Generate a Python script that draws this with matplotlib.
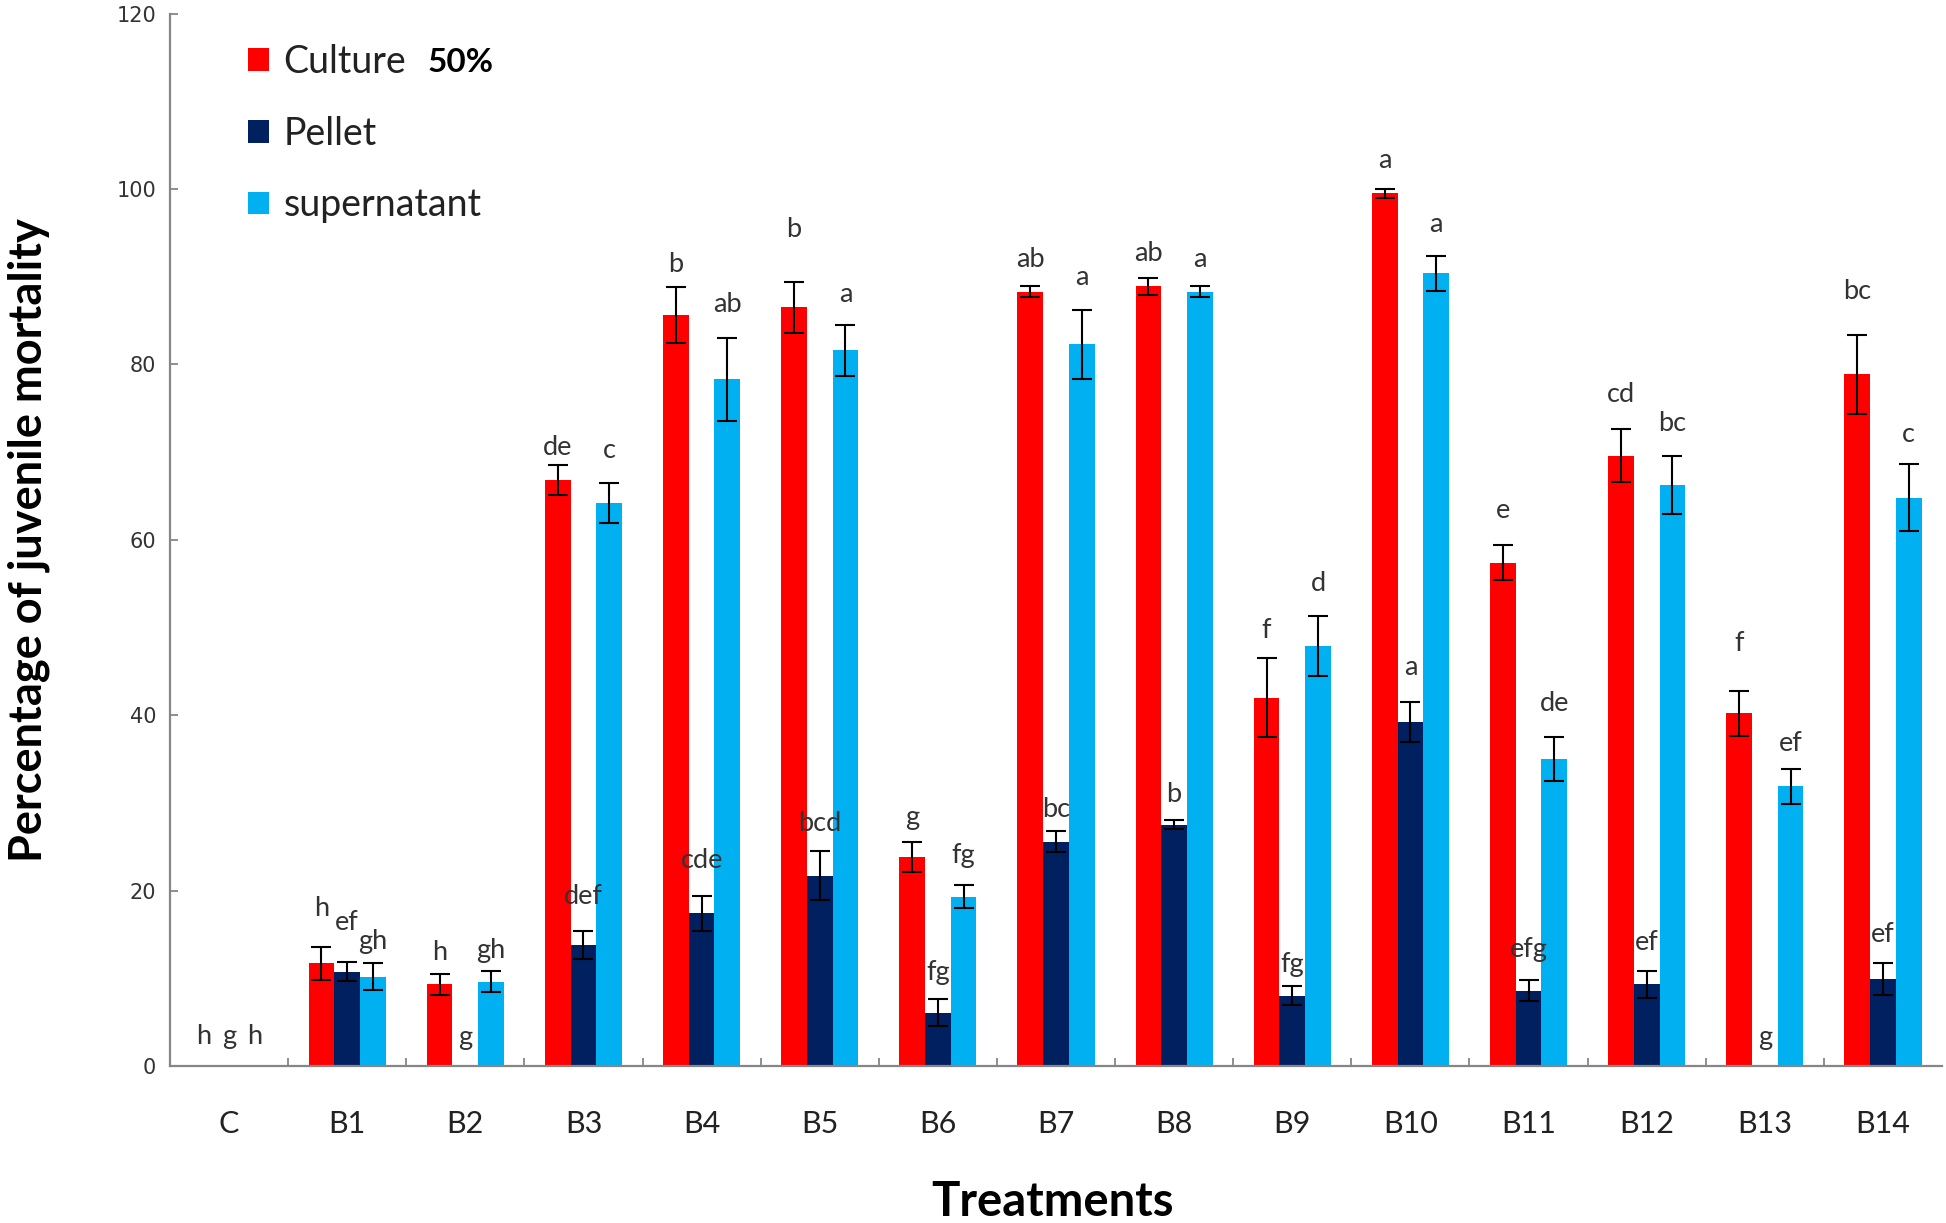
import numpy as np
import matplotlib
matplotlib.use("Agg")
import matplotlib.pyplot as plt
from matplotlib.patches import Patch

categories = ['C', 'B1', 'B2', 'B3', 'B4', 'B5', 'B6', 'B7', 'B8', 'B9', 'B10', 'B11', 'B12', 'B13', 'B14']
series_names = ['Culture', 'Pellet', 'supernatant']

culture = [0, 11.7, 9.3, 66.8, 85.6, 86.5, 23.8, 88.3, 88.9, 42.0, 99.5, 57.4, 69.6, 40.2, 78.9]
culture_err = [0, 1.9, 1.2, 1.7, 3.2, 2.9, 1.7, 0.6, 1.0, 4.5, 0.5, 2.0, 3.0, 2.6, 4.5]
pellet = [0, 10.75, 0, 13.8, 17.4, 21.7, 6.1, 25.6, 27.5, 8.0, 39.2, 8.6, 9.3, 0, 9.9]
pellet_err = [0, 1.1, 0, 1.65, 2.0, 2.8, 1.5, 1.2, 0.5, 1.1, 2.3, 1.2, 1.5, 0, 1.8]
supernatant = [0, 10.2, 9.6, 64.2, 78.3, 81.6, 19.3, 82.3, 88.3, 47.9, 90.4, 35.0, 66.3, 31.9, 64.8]
supernatant_err = [0, 1.5, 1.2, 2.3, 4.75, 2.9, 1.3, 3.95, 0.6, 3.4, 2.0, 2.5, 3.3, 2.0, 3.8]

culture_letters = ['h', 'h', 'h', 'de', 'b', 'b', 'g', 'ab', 'ab', 'f', 'a', 'e', 'cd', 'f', 'bc']
pellet_letters = ['g', 'ef', 'g', 'def', 'cde', 'bcd', 'fg', 'bc', 'b', 'fg', 'a', 'efg', 'ef', 'g', 'ef']
supernatant_letters = ['h', 'gh', 'gh', 'c', 'ab', 'a', 'fg', 'a', 'a', 'd', 'a', 'de', 'bc', 'ef', 'c']

culture_letter_y = [3.4, 18.0, 12.9, 70.5, 91.4, 95.4, 28.3, 92.0, 92.6, 49.7, 103.3, 63.3, 76.6, 48.2, 88.3]
pellet_letter_y = [3.4, 16.4, 3.2, 19.3, 23.4, 27.7, 10.7, 29.2, 31.0, 11.6, 45.4, 13.3, 14.1, 3.2, 15.0]
supernatant_letter_y = [3.4, 14.2, 13.2, 70.2, 86.8, 88.0, 24.0, 89.9, 92.0, 55.0, 96.0, 41.3, 73.3, 36.8, 72.0]

yticks = [0, 20, 40, 60, 80, 100, 120]

colors = ['#FF0000', '#002060', '#00B0F0']
W, H = 1946, 1223
fig = plt.figure(figsize=(W / 100, H / 100), dpi=100)
ax = fig.add_axes([170 / W, 1 - 1066 / H, (1942 - 170) / W, (1066 - 13.7) / H])

x = np.arange(len(categories))
bw = 0.218
vals = [culture, pellet, supernatant]
errs = [culture_err, pellet_err, supernatant_err]
letters = [culture_letters, pellet_letters, supernatant_letters]
letter_y = [culture_letter_y, pellet_letter_y, supernatant_letter_y]

for i in range(3):
    xi = x + (i - 1) * bw
    v = np.array(vals[i])
    e = np.array(errs[i])
    ax.bar(xi, v, width=bw, color=colors[i], zorder=2)
    mask = e > 0
    ax.errorbar(xi[mask], v[mask], yerr=e[mask], fmt='none', ecolor='black',
                elinewidth=1.5, capsize=7, capthick=1.5, zorder=3)
    for xx, lab, ly in zip(xi, letters[i], letter_y[i]):
        ax.text(xx, ly, lab, ha='center', va='center', fontsize=19.5,
                family=['Lato', 'DejaVu Sans'], color='#333333', zorder=4)

ax.set_xlim(-0.5, len(categories) - 0.5)
ax.set_ylim(0, 120)
ax.set_yticks(yticks)
ax.set_yticklabels([str(t) for t in yticks], family='DejaVu Sans', fontsize=15, color='#333333')
ax.set_xticks(x)
ax.set_xticklabels(categories, family=['Lato', 'DejaVu Sans'], fontsize=22, color='#222222')
ax.set_xticks(np.arange(0.5, len(categories) - 0.5, 1), minor=True)
ax.tick_params(axis='x', which='major', length=0, pad=32)
ax.tick_params(axis='x', which='minor', direction='in', length=6, width=1.3, color='#868686')
ax.tick_params(axis='y', direction='in', length=6, width=1.3, color='#868686', pad=10)

for s in ['top', 'right']:
    ax.spines[s].set_visible(False)
for s in ['left', 'bottom']:
    ax.spines[s].set_color('#868686')
    ax.spines[s].set_linewidth(1.6)

fig.text(29 / W, 1 - 540 / H, 'Percentage of juvenile mortality', rotation=90,
         ha='center', va='center', fontsize=32.5, fontweight='bold',
         family=['Lato', 'DejaVu Sans'], color='black')

fig.text(1052 / W, 1 - 1202 / H, 'Treatments', ha='center', va='center',
         fontsize=34, fontweight='bold', family=['Lato', 'DejaVu Sans'])

handles = [Patch(facecolor=c, edgecolor='none') for c in colors]
leg = fig.legend(handles, series_names, loc='upper left',
                 bbox_to_anchor=(248 / W, 1 - 44 / H), frameon=False,
                 prop={'family': ['Lato', 'DejaVu Sans'], 'size': 27},
                 handlelength=0.55, handleheight=0.55, handletextpad=0.4,
                 labelspacing=0.95, borderpad=0, borderaxespad=0)
for t in leg.get_texts():
    t.set_color('#222222')

fig.text(428 / W, 1 - 62 / H, '50%', ha='left', va='center', fontsize=24,
         fontweight='bold', family=['Lato', 'DejaVu Sans'])

fig.savefig('out.png', dpi=100)
